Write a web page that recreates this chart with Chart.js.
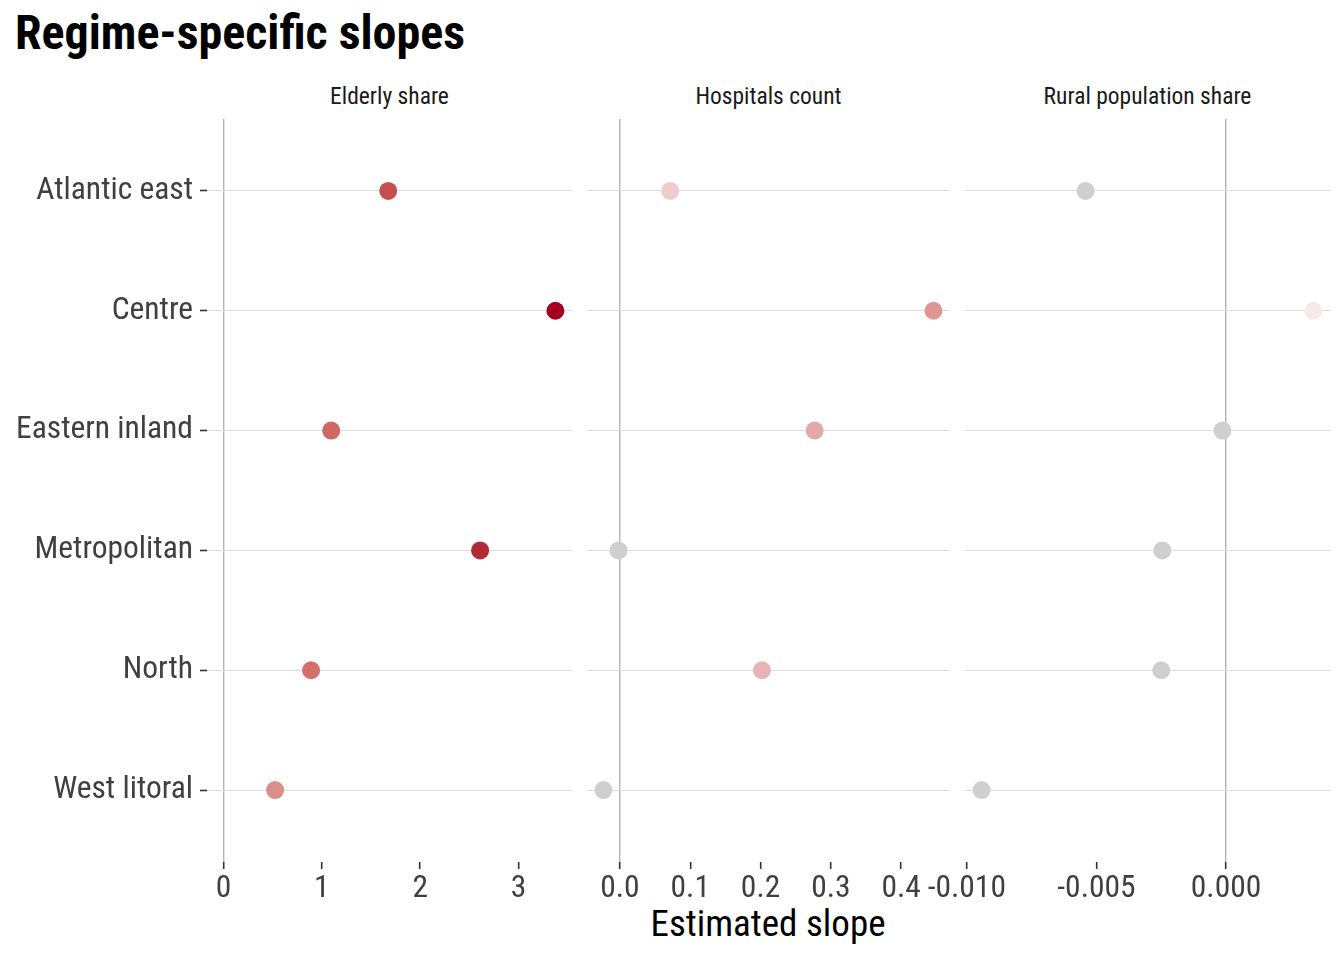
<!DOCTYPE html>
<html><head><meta charset="utf-8">
<script src="https://cdn.jsdelivr.net/npm/chart.js@4"></script>
<style>
html,body{margin:0;padding:0;background:#fff;}
#wrap{position:relative;width:1344px;height:960px;overflow:hidden;font-family:'Roboto Condensed',Roboto,sans-serif;}
#wrap canvas{position:absolute;left:0;top:0;}
.t{position:absolute;white-space:nowrap;line-height:1;}
#title{left:15px;top:9px;font-size:48px;font-weight:700;color:#000;}
.strip{top:85px;font-size:23.5px;color:#1a1a1a;transform:translateX(-50%);}
#xtitle{left:768px;top:905px;font-size:37px;color:#000;transform:translateX(-50%);}
</style></head><body>
<div id="wrap">
<div class="t" id="title">Regime-specific slopes</div>
<div class="t strip" id="s0"></div>
<div class="t strip" id="s1"></div>
<div class="t strip" id="s2"></div>
<div class="t" id="xtitle">Estimated slope</div>
<canvas id="c0" width="1344" height="960"></canvas>
<canvas id="c1" width="1344" height="960"></canvas>
<canvas id="c2" width="1344" height="960"></canvas>
</div>
<script>
// ---- data ----
const regimes = ['Atlantic east','Centre','Eastern inland','Metropolitan','North','West litoral'];
const panelNames = ['Elderly share','Hospitals count','Rural population share'];
const elderlyShare = [1.675, 3.376, 1.095, 2.61, 0.89, 0.524];
const hospitalsCount = [0.0716, 0.446, 0.277, -0.002, 0.202, -0.0234];
const ruralShare = [-0.00542, 0.00337, -0.00014, -0.00246, -0.0025, -0.00943];
const ticksElderly = [0, 1, 2, 3];
const ticksHospitals = [0, 0.1, 0.2, 0.3, 0.4];
const ticksRural = [-0.010, -0.005, 0];
const tickLabelsElderly = ['0','1','2','3'];
const tickLabelsHospitals = ['0.0','0.1','0.2','0.3','0.4'];
const tickLabelsRural = ['-0.010','-0.005','0.000'];

// ---- layout / style ----
const W = 1344, H = 960;
const panelBoxes = [[207,572],[587,950],[965,1330]];
const TOP = 119, BOTTOM = 862, XAXIS_H = 60;
const FONT = "'Roboto Condensed', Roboto, sans-serif";
const colorStops = [[0,[247,241,241]],[0.51,[212,113,109]],[0.70,[196,82,79]],[0.88,[178,42,51]],[1,[165,0,33]]];
const NEG_COLOR = '#cfcfcf';

const seriesList = [elderlyShare, hospitalsCount, ruralShare];
const tickList = [ticksElderly, ticksHospitals, ticksRural];
const tickLabelList = [tickLabelsElderly, tickLabelsHospitals, tickLabelsRural];
const globalMax = Math.max(...seriesList.flat());

function colorFor(v){
  if (v <= 0) return NEG_COLOR;
  const t = Math.sqrt(v / globalMax);
  for (let i = 1; i < colorStops.length; i++){
    const [t1,c1] = colorStops[i], [t0,c0] = colorStops[i-1];
    if (t <= t1){
      const f = (t - t0)/(t1 - t0);
      const c = c0.map((a,k)=>Math.round(a + (c1[k]-a)*f));
      return `rgb(${c[0]},${c[1]},${c[2]})`;
    }
  }
  return 'rgb(165,0,33)';
}

panelNames.forEach((n,i)=>{
  const el = document.getElementById('s'+i);
  el.textContent = n;
  el.style.left = ((panelBoxes[i][0]+panelBoxes[i][1])/2) + 'px';
});

seriesList.forEach((vals, p)=>{
  const lo = Math.min(0, ...vals), hi = Math.max(0, ...vals);
  const ext = (hi - lo) * 0.05;
  const [L, R] = panelBoxes[p];
  const first = p === 0;
  new Chart(document.getElementById('c'+p), {
    type: 'scatter',
    data: {
      datasets: [{
        data: vals.map((v,i)=>({x:v, y:i})),
        pointRadius: 9,
        pointHoverRadius: 9,
        pointBorderWidth: 0,
        pointBackgroundColor: ctx => colorFor(ctx.raw ? ctx.raw.x : 0),
        clip: false
      }]
    },
    options: {
      responsive: false,
      animation: false,
      devicePixelRatio: 1,
      layout: { padding: { left: first ? 0 : L, right: W - R, top: TOP, bottom: H - BOTTOM - XAXIS_H } },
      plugins: { legend: {display:false}, tooltip: {enabled:false} },
      scales: {
        x: {
          type: 'linear',
          min: lo - ext, max: hi + ext,
          afterBuildTicks: s => { s.ticks = tickList[p].map(v=>({value:v})); },
          afterFit: s => { s.height = XAXIS_H; s.paddingLeft = 0; s.paddingRight = 0; },
          ticks: {
            autoSkip: false, maxRotation: 0, minRotation: 0, padding: 1,
            color: '#404040',
            font: { family: FONT, size: 31.5 },
            callback: (v, i) => tickLabelList[p][i]
          },
          grid: {
            color: ctx => (ctx.tick && ctx.tick.value === 0) ? '#b3b3b3' : 'rgba(0,0,0,0)',
            lineWidth: 1.4,
            tickLength: 7, tickColor: '#333333', tickWidth: 1.6
          },
          border: { display: false }
        },
        y: {
          type: 'linear',
          min: -0.6, max: 5.6, reverse: true,
          afterBuildTicks: s => { s.ticks = regimes.map((_,i)=>({value:i})); },
          afterFit: s => { s.width = first ? L : 0; s.paddingTop = 0; s.paddingBottom = 0; },
          ticks: {
            display: first, autoSkip: false, padding: 7,
            color: '#404040',
            font: { family: FONT, size: 31.5 },
            callback: v => regimes[v]
          },
          grid: {
            color: '#dcdcdc', lineWidth: 1,
            drawTicks: first, tickLength: 7, tickColor: '#333333', tickWidth: 1.6
          },
          border: { display: false }
        }
      }
    }
  });
});
</script>
</body></html>
